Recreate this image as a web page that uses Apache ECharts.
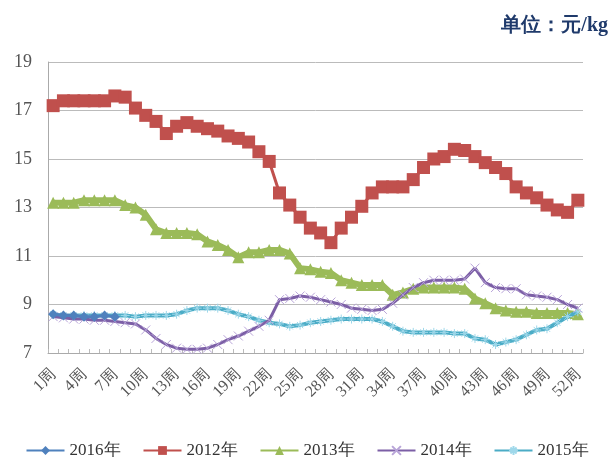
<!DOCTYPE html>
<html>
<head>
<meta charset="utf-8">
<script src="https://cdn.jsdelivr.net/npm/echarts@6/dist/echarts.min.js"></script>
<style>
  html, body { margin: 0; padding: 0; background: #fff; }
  #chart { width: 614px; height: 468px; }
</style>
</head>
<body>
<div id="chart"></div>
<script>
const weeks = []
for (let i = 1; i <= 52; i++) weeks.push(i + '周')

const yTicks = [7, 9, 11, 13, 15, 17, 19]

const y2016 = [8.6, 8.55, 8.55, 8.5, 8.5, 8.55, 8.5]
const y2012 = [17.2, 17.4, 17.4, 17.4, 17.4, 17.4, 17.6, 17.55, 17.1, 16.8,
  16.55, 16.05, 16.35, 16.5, 16.35, 16.25, 16.15, 15.95, 15.85, 15.7,
  15.3, 14.9, 13.6, 13.1, 12.6, 12.15, 11.95, 11.55, 12.15, 12.6,
  13.05, 13.6, 13.85, 13.85, 13.85, 14.15, 14.65, 15.0, 15.1, 15.4,
  15.35, 15.1, 14.85, 14.65, 14.4, 13.85, 13.6, 13.4, 13.1, 12.9,
  12.8, 13.3]
const y2013 = [13.2, 13.2, 13.2, 13.3, 13.3, 13.3, 13.3, 13.1, 13.0, 12.7,
  12.1, 11.95, 11.95, 11.95, 11.9, 11.6, 11.45, 11.25, 10.95, 11.15,
  11.15, 11.25, 11.25, 11.1, 10.5, 10.45, 10.35, 10.3, 10.0, 9.9,
  9.8, 9.8, 9.8, 9.4, 9.5, 9.65, 9.7, 9.7, 9.7, 9.7,
  9.65, 9.25, 9.05, 8.85, 8.75, 8.7, 8.7, 8.65, 8.65, 8.65,
  8.65, 8.6]
const y2014 = [8.5, 8.45, 8.4, 8.4, 8.35, 8.35, 8.3, 8.25, 8.2, 7.95,
  7.6, 7.35, 7.2, 7.15, 7.15, 7.2, 7.35, 7.55, 7.7, 7.9,
  8.1, 8.35, 9.2, 9.25, 9.35, 9.3, 9.2, 9.1, 9.0, 8.85,
  8.8, 8.75, 8.8, 9.05, 9.4, 9.7, 9.9, 10.0, 10.0, 10.0,
  10.05, 10.5, 9.9, 9.7, 9.65, 9.65, 9.4, 9.35, 9.3, 9.2,
  9.0, 8.85]
const y2015 = [8.6, 8.55, 8.55, 8.55, 8.55, 8.55, 8.55, 8.55, 8.5, 8.55,
  8.55, 8.55, 8.6, 8.75, 8.85, 8.85, 8.85, 8.75, 8.6, 8.5,
  8.35, 8.25, 8.2, 8.1, 8.15, 8.25, 8.3, 8.35, 8.4, 8.4,
  8.4, 8.4, 8.3, 8.1, 7.9, 7.85, 7.85, 7.85, 7.85, 7.8,
  7.8, 7.6, 7.55, 7.35, 7.45, 7.55, 7.75, 7.95, 8.0, 8.25,
  8.5, 8.7]

const serif = '"Liberation Serif", "DejaVu Serif", serif'
const crossPath = 'path://M0,0L10,10M10,0L0,10'
const starPath = 'path://M5,0L5,10M0,5L10,5M1.5,1.5L8.5,8.5M8.5,1.5L1.5,8.5'

const chart = echarts.init(document.getElementById('chart'))
chart.setOption({
  animation: false,
  title: {
    text: '单位：元/kg',
    right: 1,
    top: 11,
    textStyle: { color: '#1f3a6b', fontSize: 20, fontWeight: 'bold', fontFamily: serif }
  },
  legend: {
    bottom: 4,
    left: 'center',
    itemWidth: 38,
    itemHeight: 11,
    itemGap: 22,
    textStyle: { color: '#333', fontSize: 17, fontFamily: serif },
    data: ['2016年', '2012年', '2013年', '2014年', '2015年']
  },
  grid: { left: 48, right: 31, top: 62, bottom: 115 },
  xAxis: {
    type: 'category',
    data: weeks,
    boundaryGap: true,
    axisLine: { lineStyle: { color: '#aaa' } },
    axisTick: { show: true, inside: true, length: 4, interval: 0, lineStyle: { color: '#bbb' } },
    axisLabel: {
      interval: 2,
      rotate: 45,
      color: '#555',
      fontSize: 16,
      fontFamily: serif,
      margin: 19
    }
  },
  yAxis: {
    type: 'value',
    min: yTicks[0],
    max: yTicks[yTicks.length - 1],
    interval: 2,
    axisLine: { show: true, lineStyle: { color: '#aaa' } },
    axisTick: { show: false },
    axisLabel: { color: '#555', fontSize: 18, fontFamily: serif, margin: 16 },
    splitLine: { lineStyle: { color: '#bbb' } }
  },
  series: [
    {
      name: '2012年', type: 'line', data: y2012, z: 3,
      showSymbol: true, showAllSymbol: true,
      symbol: 'rect', symbolSize: 13,
      lineStyle: { color: '#c0504d', width: 3 },
      itemStyle: { color: '#c0504d' }
    },
    {
      name: '2013年', type: 'line', data: y2013, z: 3,
      showSymbol: true, showAllSymbol: true,
      symbol: 'triangle', symbolSize: 12,
      lineStyle: { color: '#9bbb59', width: 6 },
      itemStyle: { color: '#9bbb59' }
    },
    {
      name: '2015年', type: 'line', data: y2015, z: 4,
      showSymbol: true, showAllSymbol: true,
      symbol: starPath, symbolSize: 9,
      lineStyle: { color: '#4bacc6', width: 4 },
      itemStyle: { color: 'none', borderColor: '#9fd8ea', borderWidth: 1 }
    },
    {
      name: '2014年', type: 'line', data: y2014, z: 5,
      showSymbol: true, showAllSymbol: true,
      symbol: crossPath, symbolSize: 9,
      lineStyle: { color: '#7c5fa6', width: 3 },
      itemStyle: { color: 'none', borderColor: '#b8a4d8', borderWidth: 1 }
    },
    {
      name: '2016年', type: 'line', data: y2016, z: 6,
      showSymbol: true, showAllSymbol: true,
      symbol: 'diamond', symbolSize: 10,
      lineStyle: { color: '#4f81bd', width: 3 },
      itemStyle: { color: '#4f81bd' }
    }
  ]
})
</script>
</body>
</html>
